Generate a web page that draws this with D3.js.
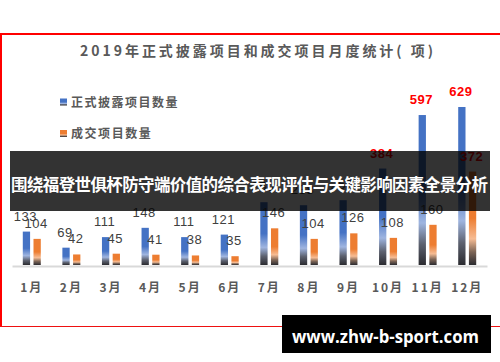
<!DOCTYPE html>
<html><head><meta charset="utf-8">
<script src="https://cdn.jsdelivr.net/npm/d3@7/dist/d3.min.js"></script>
<style>html,body{margin:0;padding:0;background:#fff;}svg{display:block;}</style>
</head><body>
<svg id="c" width="500" height="362"></svg>
<script>
const titleText = "2019年正式披露项目和成交项目月度统计( 项)";
const months = ["1月","2月","3月","4月","5月","6月","7月","8月","9月","10月","11月","12月"];
const seriesNames = ["正式披露项目数量", "成交项目数量"];
const disclosed = [133, 69, 111, 148, 111, 121, 250, 238, 258, 384, 597, 629];
const deals = [104, 42, 45, 41, 38, 35, 146, 104, 126, 108, 160, 372];
const bannerText = "围绕福登世俱杯防守端价值的综合表现评估与关键影响因素全景分析";
const watermarkText = "www.zhw-b-sport.com";

const svg = d3.select("#c");
const cjk = "'Noto Sans CJK SC','Noto Sans',sans-serif";
const defs = svg.append("defs");
function grad(id, c, light, mid) {
  const g = defs.append("linearGradient").attr("id", id).attr("x1",0).attr("y1",0).attr("x2",0).attr("y2",1);
  [[0,c],[0.5,c],[0.72,light],[0.86,mid],[1,"#2b2b30"]].forEach(s=>g.append("stop").attr("offset",s[0]).attr("stop-color",s[1]));
}
grad("gB", "#4472C4", "#9fb5e0", "#5d6270");
grad("gO", "#ED7D31", "#F6BC94", "#7d6556");
const colors = ["url(#gB)", "url(#gO)"];

// frame
svg.append("line").attr("x1",0).attr("x2",500).attr("y1",34).attr("y2",34).attr("stroke","#ff0000").attr("stroke-width",2);
svg.append("line").attr("x1",1).attr("x2",1).attr("y1",33).attr("y2",327).attr("stroke","#ff0000").attr("stroke-width",2);
svg.append("line").attr("x1",0).attr("x2",500).attr("y1",326.5).attr("y2",326.5).attr("stroke","#ee1111").attr("stroke-width",1);

// title
svg.append("text").attr("x",80).attr("y",56).attr("textLength",353).attr("lengthAdjust","spacing")
  .style("font-family",cjk).style("font-weight",700).style("font-size","14px").attr("fill","#595959").text(titleText);

// legend
seriesNames.forEach((n,i)=>{
  const y = 102 + i*31.5;
  svg.append("rect").attr("x",60).attr("y",y-3.5).attr("width",7).attr("height",7).attr("fill",colors[i]);
  svg.append("text").attr("x",71).attr("y",y+4.5).attr("textLength", n.length*13.3).attr("lengthAdjust","spacing")
    .style("font-family",cjk).style("font-weight",700).style("font-size","12px").attr("fill","#595959").text(n);
});

// scales
const x = d3.scaleBand().domain(months).range([12,487]).paddingInner(0).paddingOuter(0);
const y = d3.scaleLinear().domain([0,700]).range([265, 265-700*0.2512]);
const bw = 7.3, gap = 1.7;

// axis
const ax = svg.append("g").attr("transform","translate(0,266)").call(d3.axisBottom(x).tickSize(0).tickPadding(0));
ax.select(".domain").attr("stroke","#d9d9d9").attr("stroke-width",2);
ax.selectAll("text").attr("dy",0).attr("y",26).attr("fill","#595959")
  .style("font-family",cjk).style("font-weight",700).style("font-size","12px").style("letter-spacing","2px");

const series = [disclosed, deals];
series.forEach((vals,si)=>{
  const g = svg.append("g");
  g.selectAll("rect").data(vals).join("rect")
    .attr("x",(d,i)=> x(months[i]) + x.bandwidth()/2 + (si===0 ? -gap-bw : gap))
    .attr("y",d=>y(d)).attr("width",bw).attr("height",d=>y(0)-y(d)).attr("fill",colors[si]);
  g.selectAll("text").data(vals).join("text")
    .attr("x",(d,i)=> x(months[i]) + x.bandwidth()/2 + (si===0 ? -gap-bw/2-1 : gap+bw/2-1))
    .attr("y",d=>y(d)-11).attr("text-anchor","middle")
    .style("font-family","'Liberation Sans',Arial,sans-serif").style("font-size","13px")
    .style("letter-spacing","0.5px")
    .style("font-weight",d=>d>300?700:400)
    .attr("fill",d=>d>300?"#ff0000":"#404040").text(d=>d);
});

// banner overlay
svg.append("rect").attr("x",10).attr("y",151).attr("width",480).attr("height",60).attr("fill","#000").attr("opacity",0.8);
svg.append("text").attr("x",11).attr("y",191).attr("textLength",477).attr("lengthAdjust","spacing")
  .style("font-family",cjk).style("font-weight",700).style("font-size","16.5px").attr("fill","#fff").text(bannerText);

// watermark
svg.append("rect").attr("x",282).attr("y",315).attr("width",209).attr("height",38).attr("fill","#000");
svg.append("text").attr("x",292).attr("y",342.5).attr("textLength",187).attr("lengthAdjust","spacingAndGlyphs")
  .style("font-family","'Open Sans',sans-serif").style("font-weight",700).style("font-size","17.5px").attr("fill","#fff").text(watermarkText);
</script>
</body></html>
